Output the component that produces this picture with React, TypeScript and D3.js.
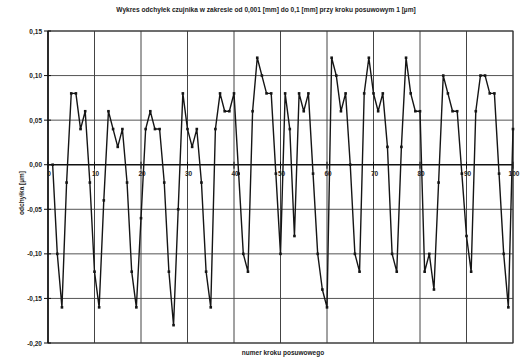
import React, { useEffect, useRef } from 'react';
import * as d3 from 'd3';

const steps: number[] = d3.range(1, 101);
const deviations: number[] = [
  0.0, -0.1, -0.16, -0.02, 0.08, 0.08, 0.04, 0.06, -0.02, -0.12,
  -0.16, -0.04, 0.06, 0.04, 0.02, 0.04, -0.02, -0.12, -0.16, -0.06,
  0.04, 0.06, 0.04, 0.04, -0.02, -0.12, -0.18, -0.05, 0.08, 0.04,
  0.02, 0.04, -0.02, -0.12, -0.16, 0.04, 0.08, 0.06, 0.06, 0.08,
  -0.01, -0.1, -0.12, 0.06, 0.12, 0.1, 0.08, 0.08, -0.01, -0.1,
  0.08, 0.04, -0.08, 0.08, 0.06, 0.08, -0.01, -0.1, -0.14, -0.16,
  0.12, 0.1, 0.06, 0.08, 0.0, -0.1, -0.12, 0.08, 0.12, 0.08,
  0.06, 0.08, 0.02, -0.1, -0.12, 0.02, 0.12, 0.08, 0.06, 0.06,
  -0.12, -0.1, -0.14, -0.02, 0.1, 0.08, 0.06, 0.06, -0.01, -0.08,
  -0.12, 0.06, 0.1, 0.1, 0.08, 0.08, -0.01, -0.1, -0.16, 0.04,
];
const xTicks: number[] = [0, 10, 20, 30, 40, 50, 60, 70, 80, 90, 100];
const yTicks: number[] = [0.15, 0.1, 0.05, 0, -0.05, -0.1, -0.15, -0.2];

const title = 'Wykres odchyłek czujnika w zakresie od 0,001 [mm] do 0,1 [mm] przy kroku posuwowym 1 [µm]';
const yTitle = 'odchyłka [µm]';
const xTitle = 'numer kroku posuwowego';

const App = () => {
  const ref = useRef<SVGSVGElement>(null);

  useEffect(() => {
    const svg = d3.select(ref.current);
    svg.selectAll('*').remove();
    const left = 48, right = 513, top = 31, bottom = 343;
    const font = 'Liberation Sans, Arial, sans-serif';

    const x = d3.scaleLinear().domain([0, 100]).range([left, right]);
    const y = d3.scaleLinear().domain([-0.2, 0.15]).range([bottom, top]);
    const fmt = (v: number) => d3.format('.2f')(v).replace('.', ',').replace('−', '-');

    svg.append('rect').attr('width', 521).attr('height', 358).attr('fill', '#fff');

    // grid
    svg.append('g').selectAll('line').data(yTicks).enter().append('line')
      .attr('x1', left).attr('x2', right)
      .attr('y1', d => y(d)).attr('y2', d => y(d))
      .attr('stroke', d => (d === 0 ? '#111' : '#555'))
      .attr('stroke-width', d => (d === 0 ? 1.6 : 1));
    svg.append('g').selectAll('line').data(xTicks.slice(1)).enter().append('line')
      .attr('x1', d => x(d)).attr('x2', d => x(d))
      .attr('y1', top).attr('y2', bottom)
      .attr('stroke', '#444').attr('stroke-width', 1);

    // frame
    svg.append('rect').attr('x', left).attr('y', top)
      .attr('width', right - left).attr('height', bottom - top)
      .attr('fill', 'none').attr('stroke', '#333').attr('stroke-width', 1);
    svg.append('line').attr('x1', left).attr('x2', left).attr('y1', top).attr('y2', bottom)
      .attr('stroke', '#111').attr('stroke-width', 1.6);

    // y ticks and labels
    const yg = svg.append('g');
    yg.selectAll('line').data(yTicks).enter().append('line')
      .attr('x1', left - 4).attr('x2', left + 3)
      .attr('y1', d => y(d)).attr('y2', d => y(d))
      .attr('stroke', '#111').attr('stroke-width', 1);
    yg.selectAll('text').data(yTicks).enter().append('text')
      .attr('x', left - 6).attr('y', d => y(d) + 2.5)
      .attr('text-anchor', 'end')
      .attr('font-family', font).attr('font-size', 6.5).attr('font-weight', 'bold')
      .attr('fill', '#222')
      .text(d => fmt(d));

    // x ticks and labels on zero line
    const xg = svg.append('g');
    xg.selectAll('line').data(xTicks).enter().append('line')
      .attr('x1', d => x(d)).attr('x2', d => x(d))
      .attr('y1', y(0) - 3).attr('y2', y(0) + 4)
      .attr('stroke', '#111').attr('stroke-width', 1);
    xg.selectAll('text').data(xTicks).enter().append('text')
      .attr('x', d => x(d) + 1).attr('y', y(0) + 11)
      .attr('text-anchor', 'middle')
      .attr('font-family', font).attr('font-size', 6.5).attr('font-weight', 'bold')
      .attr('fill', '#222')
      .text(d => String(d));

    // data line
    const line = d3.line<number>()
      .x((_, i) => x(steps[i]))
      .y(d => y(d));
    svg.append('path').datum(deviations)
      .attr('d', line)
      .attr('fill', 'none').attr('stroke', '#151515').attr('stroke-width', 1.4)
      .attr('stroke-linejoin', 'round');
    svg.append('g').selectAll('rect').data(deviations).enter().append('rect')
      .attr('x', (_, i) => x(steps[i]) - 1.3).attr('y', d => y(d) - 1.3)
      .attr('width', 2.6).attr('height', 2.6).attr('fill', '#151515');

    // titles
    svg.append('text').attr('x', 266).attr('y', 12).attr('text-anchor', 'middle')
      .attr('font-family', font).attr('font-size', 6.6).attr('font-weight', 'bold')
      .attr('fill', '#222').text(title);
    svg.append('text').attr('transform', `translate(24,${(top + bottom) / 2 + 6}) rotate(-90)`)
      .attr('text-anchor', 'middle')
      .attr('font-family', font).attr('font-size', 6.5).attr('font-weight', 'bold')
      .attr('fill', '#222').text(yTitle);
    svg.append('text').attr('x', 283).attr('y', 355).attr('text-anchor', 'middle')
      .attr('font-family', font).attr('font-size', 6.5).attr('font-weight', 'bold')
      .attr('fill', '#222').text(xTitle);
  }, []);

  return (
    <div style={{ position: 'fixed', left: 0, top: 0 }}>
      <svg ref={ref} width={521} height={358} style={{ display: 'block' }} />
    </div>
  );
};

export default App;
